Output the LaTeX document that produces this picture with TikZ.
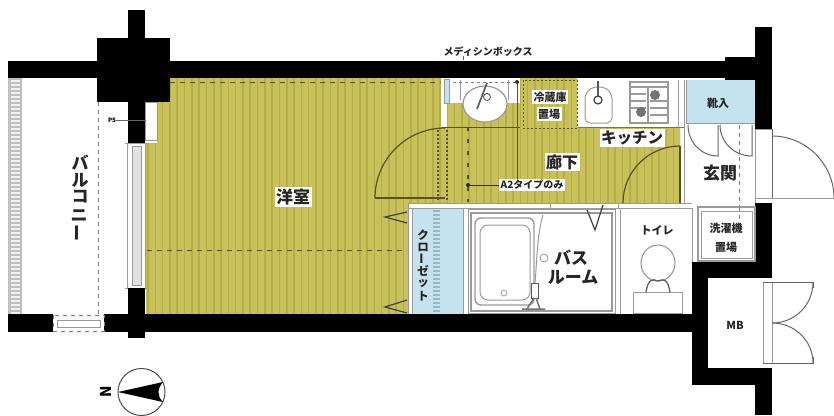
\documentclass[tikz,border=0pt]{standalone}
\usepackage{fontspec}
\setmainfont{Noto Sans CJK JP}
\definecolor{floorbase}{HTML}{C8C15A}
\definecolor{floorstripe}{HTML}{B4AD48}
\definecolor{olive}{HTML}{5A5218}
\definecolor{sky}{HTML}{C5E3EE}
\definecolor{gl}{HTML}{9A9A9A}
\tikzset{
  x=1pt,y=-1pt,
  wall/.style={fill=black,draw=none},
  fix/.style={draw=gl,line width=1pt,fill=white},
  thin fix/.style={draw=gl,line width=.8pt},
  doorline/.style={draw=olive,line width=1.2pt},
  doorgray/.style={draw=black!60,line width=1pt},
  olivedash/.style={draw=olive,line width=.8pt,dash pattern=on 5pt off 5pt},
  dotgray/.style={draw=black!50,line width=.8pt,dash pattern=on 4pt off 4pt},
  lab/.style={font=\bfseries,inner sep=1.5pt,fill=white,text=black!85},
  bare/.style={font=\bfseries,inner sep=0pt,text=black!85},
}
\newcommand{\fs}[1]{\fontsize{#1}{#1}\selectfont}
\begin{document}
\begin{tikzpicture}
\useasboundingbox (0,0) rectangle (834,415);
\fill[white] (0,0) rectangle (834,415);
% floor
\path[fill=floorbase] (170,78) -- (447,78) -- (447,103) -- (520,103) -- (520,78) -- (577,78) -- (577,127) -- (680,127) -- (680,203) -- (408,203) -- (408,314) -- (146,314) -- (146,143) -- (157,143) -- (157,102) -- (170,102) -- cycle;
\begin{scope}
\clip (170,78) -- (447,78) -- (447,103) -- (520,103) -- (520,78) -- (577,78) -- (577,127) -- (680,127) -- (680,203) -- (408,203) -- (408,314) -- (146,314) -- (146,143) -- (157,143) -- (157,102) -- (170,102) -- cycle;
\foreach \i in {0,...,74} {\draw[floorstripe,line width=1.6pt] ({148+7.3*\i},70) -- ({148+7.3*\i},320);}
\end{scope}
% white wall strip
\fill[white] (441,78) rectangle (447,127);
% closet
\fill[sky] (412,208) rectangle (463,314);
\draw[gl,line width=.8pt] (412,208) -- (412,314) (463,208) -- (463,314);
\foreach \yy in {210,214,...,312} {\fill[black!20!sky] (433,\yy) rectangle (440,{\yy+2});}
% shoe box
\fill[sky] (686,80) rectangle (755,123);
\draw[gl,line width=.8pt] (686,80) -- (686,123) -- (755,123);
% bands
\draw[thin fix] (408,203.5) -- (692,203.5) (408,208) -- (692,208);
\draw[thin fix] (408,203) -- (408,314);
\draw[thin fix] (550,203) -- (550,208) (618,203) -- (618,208);
% PS
\draw[fix] (145,102) rectangle (157,140);
% window left
\draw[fix] (127,143) rectangle (145,288);
\fill[black!12] (132,146) rectangle (141,285);
\draw[thin fix] (132,146) rectangle (141,285);
\draw[thin fix] (125,143) -- (147,143) (125,288) -- (147,288);
% balcony rail
\fill[black!25] (8,78) rectangle (22,314);
\foreach \yy in {80,84,...,312} {\fill[black!5] (11,\yy) rectangle (20,{\yy+2});}
\draw[dotgray] (98,102) -- (98,314);
% walls
\fill[wall] (8,61) rectangle (725,78);
\fill[wall] (725,57) rectangle (755,80);
\fill[wall] (97,38) rectangle (170,102);
\fill[wall] (128,10) rectangle (145,143);
\fill[wall] (128,288) rectangle (145,338);
\fill[wall] (8,314) rectangle (53,332);
\fill[wall] (104,314) rectangle (692,332);
\fill[wall] (692,262) rectangle (708,385);
\fill[wall] (692,262) rectangle (772,278);
\fill[wall] (692,368) rectangle (772,385);
\fill[wall] (755,27) rectangle (772,129);
\fill[wall] (755,203) rectangle (772,278);
\fill[wall] (755,368) rectangle (772,415);
% balcony bottom window
\draw[dotgray] (53,315) rectangle (104,331);
\draw[fix] (57,320) rectangle (100,327);
% PS label
\node[font=\fs{6}\bfseries,inner sep=0pt] (ps) at (112,120) {PS};
\coordinate (psend) at (146,120);
\draw[black!60,line width=.5pt] (ps.east) -- (psend);
% room dashes and door
\draw[olivedash] (170,82) -- (441,82);
\draw[olivedash] (147,250) -- (407,250);
\draw[doorline] (375,198) .. controls (375,159.3) and (406.3,128) .. (445,128);
\draw[doorline] (375,198) -- (445,198);
\draw[black!75,line width=1.2pt] (407,212) -- (385,217) -- (407,223);
\draw[black!75,line width=1.2pt] (407,300) -- (385,307) -- (407,313);
% corridor
\draw[olivedash,dash pattern=on 2pt off 2pt,line width=1.2pt] (438,130) -- (438,202) (447,130) -- (447,202);
\draw[olivedash,dash pattern=on 4pt off 8pt,line width=1.2pt] (468,127) -- (468,202);
\draw[doorline] (623,203) .. controls (623,171.5) and (648.5,146) .. (680,146);
\draw[doorline] (680,146) -- (680,203);
\draw[olive,line width=1pt] (517,82) -- (517,180);
% sink
\fill[white] (447,79) rectangle (517,103);
\draw[thin fix] (460,80) -- (460,100) (508,80) -- (508,100);
\draw[dotgray,dash pattern=on 3pt off 3pt] (447,82) -- (517,82);
\fill[sky] (444,79) rectangle (449,103);
\draw[gl,line width=.7pt] (444,79) rectangle (449,103);
\draw[fix,line width=1.2pt] (485,104) ellipse [x radius=22,y radius=18];
\draw[black!65,line width=1.6pt] (487,83) -- (477,109);
\draw[black!65,line width=.9pt] (487,97) circle (3.5);
\fill[black!80] (517,82) circle (2);
\draw[olive,line width=1pt] (442,127) -- (520,127);
% fridge
\draw[olive,line width=.9pt,dash pattern=on 2pt off 2pt] (523,80) rectangle (577,128);
% kitchen
\fill[white] (578,80) rectangle (683,127);
\draw[thin fix] (678,80) -- (678,127) (684,80) -- (684,127);
\draw[draw=olive!80,line width=.8pt] (578,127) -- (684,127);
\draw[fix,rounded corners=5pt] (585,123) -- (585,94) -- (592,87) -- (605,87) -- (612,94) -- (612,123) -- cycle;
\draw[black!65,line width=1.8pt] (598,81) -- (598,97);
\draw[black!75,line width=1.2pt] (598,100) circle (4);
\draw[fix,line width=1.8pt] (630,82) rectangle (668,123);
\draw[gl,line width=1.4pt] (630,87) -- (668,87) (648,87) -- (648,123);
\foreach \yy in {94,101,108} {\draw[gl,line width=1.3pt] (630,\yy) -- (646,\yy);}
\foreach \yy in {101,108,115} {\draw[gl,line width=1.3pt] (650,\yy) -- (668,\yy);}
\fill[black!55] (655,95) circle (5);
\fill[black!55] (641,112) circle (5);
% entrance
\draw[doorgray] (688,125) .. controls (688,142) and (701,156) .. (718,156) -- (718,125);
\draw[doorgray] (720,125) .. controls (720,142) and (734,156) .. (752,156) -- (752,125);
\draw[dotgray] (739,125) -- (739,215);
\draw[thin fix] (684,127) -- (684,203) (755,129) -- (772,129);
\draw[thin fix] (755,129) -- (755,203);
\draw[thin fix] (755,198) -- (834,198);
\draw[doorgray] (834,198) .. controls (834,164) and (806,136) .. (772,136);
\draw[doorgray] (772,129) -- (772,198);
% bath
\draw[fix] (468,209) rectangle (615,313);
\draw[thin fix,line width=1.5pt] (471,213) rectangle (612,311);
\draw[thin fix] (620,208) -- (620,314);
\draw[thin fix,rounded corners=6pt,line width=1.4pt] (475,218) rectangle (534,305);
\draw[thin fix,rounded corners=8pt,line width=1pt] (480,225) rectangle (530,300);
\draw[thin fix] (504,293) circle (3);
\draw[thin fix] (544,258) circle (4);
\draw[thin fix,line width=1pt] (543,215) .. controls (537,235) and (537,260) .. (535,283);
\draw[black!65,fill=white,line width=1pt] (531,283) rectangle (538,298);
\draw[black!55,line width=1.5pt] (522,309) -- (545,309) (527,309) -- (534,298) (540,309) -- (536,298);
\draw[black!75,line width=1.2pt] (587,210) -- (595,230) -- (603,205);
% toilet
\draw[thin fix] (692,208) -- (692,262);
\draw[fix] (633,292) rectangle (682,313);
\draw[fix,line width=1.1pt] (658,263) ellipse [x radius=17,y radius=18];
\draw[black!65,line width=1.2pt] (646,292) .. controls (648,280) and (652,278) .. (658,281) .. controls (664,278) and (668,280) .. (670,292);
% washer
\draw[fix,line width=1.3pt] (698,207) rectangle (755,261);
\draw[thin fix] (701,211) rectangle (752,258);
\draw[dotgray] (739,207) -- (739,225);
% MB doors
\draw[thin fix] (763,282) rectangle (772,363);
\draw[doorgray] (763,282) -- (813,282) -- (813,288);
\draw[doorgray] (763,363) -- (813,363) -- (813,357);
\draw[doorgray] (813,282) .. controls (813,305) and (795,323) .. (772,323);
\draw[doorgray] (813,363) .. controls (813,341) and (795,323) .. (772,323);
% compass
\draw[black!70,line width=1pt,fill=white] (141.5,392) circle (23.5);
\path[fill=black] (118,392) -- (163,382) .. controls (157,389) and (157,396) .. (163,402) -- cycle;
\node[font=\fs{15}\bfseries,rotate=90,inner sep=0pt] (north) at (106,392) {N};
% labels
\node[lab,font=\fs{17}\bfseries] (youshitsu) at (293,197) {洋室};
\node[bare,font=\fs{17}\bfseries] (ba1) at (80,163) {バ};
\node[bare,font=\fs{17}\bfseries] (ba2) at (80,180) {ル};
\node[bare,font=\fs{17}\bfseries] (ba3) at (80,197) {コ};
\node[bare,font=\fs{17}\bfseries] (ba4) at (79,216) {ニ};
\node[bare,font=\fs{17}\bfseries,rotate=90] (ba5) at (79,233) {ー};
\node[bare,font=\fs{10}\bfseries] (med) at (488,52) {メディシンボックス};
\coordinate (medend) at (463,60);
\draw[black!60,line width=.5pt] (463,56) -- (medend);
\node[lab,font=\fs{11}\bfseries] (rei1) at (550,97) {冷蔵庫};
\node[lab,font=\fs{11}\bfseries] (rei2) at (549,114) {置場};
\node[lab,font=\fs{15.5}\bfseries] (kit) at (632,138) {キッチン};
\node[lab,font=\fs{16}\bfseries] (rouka) at (562,162) {廊下};
\node[lab,font=\fs{10}\bfseries] (a2) at (532,185) {A2タイプのみ};
\coordinate (a2dot) at (468,185);
\fill[black!85] (a2dot) circle (2);
\draw[black!85,line width=.8pt] (a2dot) -- (a2.west);
\node[bare,font=\fs{11}\bfseries] (kutsu) at (718,103) {靴入};
\node[bare,font=\fs{17}\bfseries] (genkan) at (720,173) {玄関};
\node[bare,font=\fs{17}\bfseries] (bus1) at (571,258) {バス};
\node[bare,font=\fs{17}\bfseries] (bus2) at (573,277) {ルーム};
\node[bare,font=\fs{11}\bfseries] (toilet) at (657,230) {トイレ};
\node[bare,font=\fs{11}\bfseries] (sen1) at (726,228) {洗濯機};
\node[bare,font=\fs{11}\bfseries] (sen2) at (726,247) {置場};
\node[bare,font=\fs{11}\bfseries] (mb) at (735,325) {MB};
\foreach \c/\yy/\r in {ク/235/0,ロ/247/0,ー/259/90,ゼ/271/0,ッ/284/0,ト/296/0} {
  \node[bare,font=\fs{11.5}\bfseries,rotate=\r] at (423,\yy) {\c};
}
\end{tikzpicture}
\end{document}
